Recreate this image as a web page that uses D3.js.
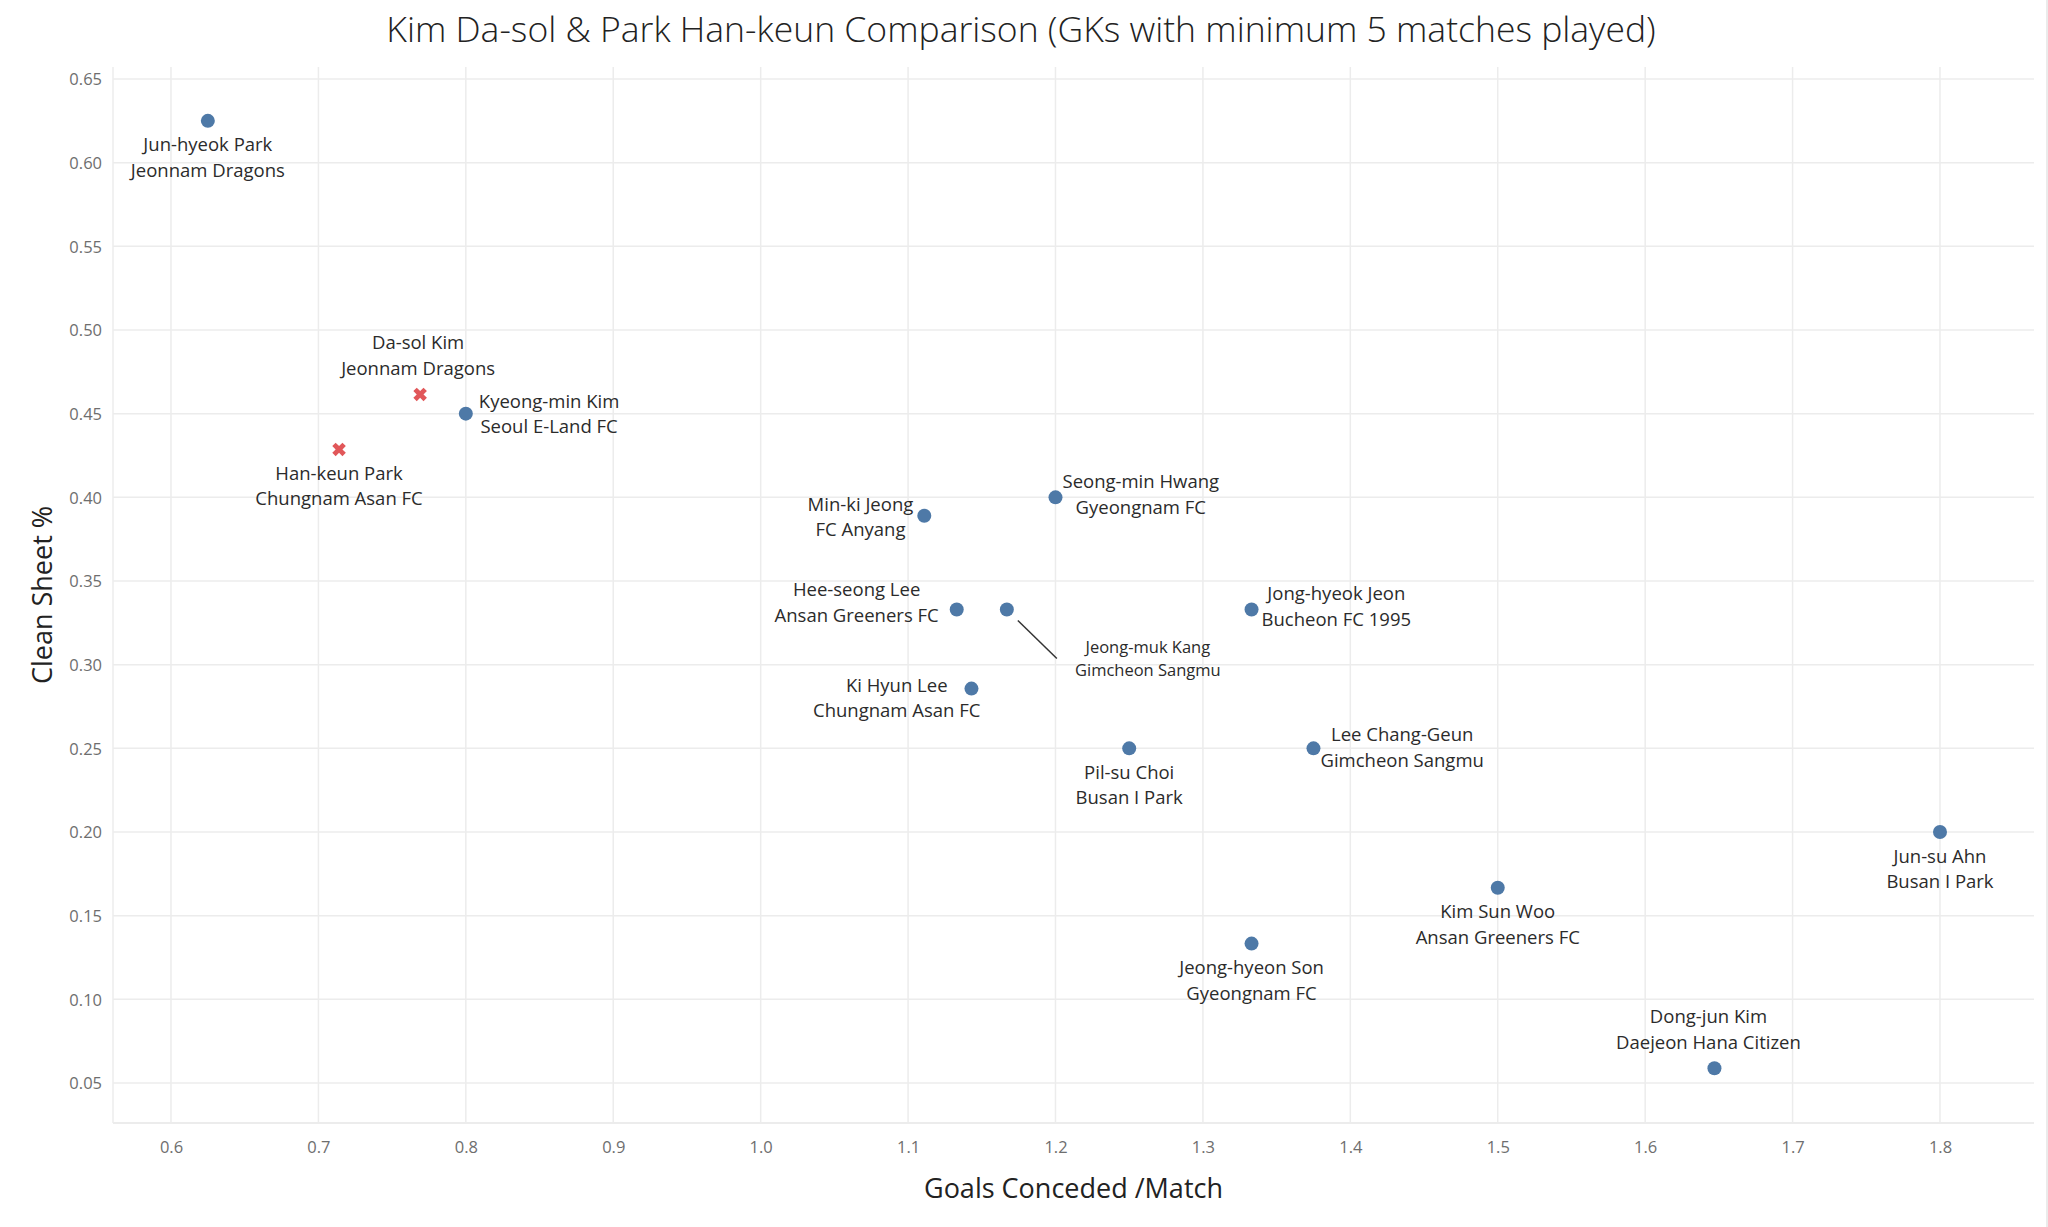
<!DOCTYPE html>
<html>
<head>
<meta charset="utf-8">
<script src="https://cdn.jsdelivr.net/npm/d3@7/dist/d3.min.js"></script>
<style>
  html, body { margin: 0; padding: 0; background: #ffffff; }
  svg { display: block; }
  text { font-family: "Open Sans", "Noto Sans", sans-serif; }
</style>
</head>
<body>
<svg id="chart" width="2048" height="1227"></svg>
<script>
// ---------------- data ----------------
const players = ["Jun-hyeok Park","Da-sol Kim","Han-keun Park","Kyeong-min Kim","Min-ki Jeong","Seong-min Hwang","Hee-seong Lee","Jeong-muk Kang","Jong-hyeok Jeon","Ki Hyun Lee","Pil-su Choi","Lee Chang-Geun","Jun-su Ahn","Kim Sun Woo","Jeong-hyeon Son","Dong-jun Kim"];
const teams = ["Jeonnam Dragons","Jeonnam Dragons","Chungnam Asan FC","Seoul E-Land FC","FC Anyang","Gyeongnam FC","Ansan Greeners FC","Gimcheon Sangmu","Bucheon FC 1995","Chungnam Asan FC","Busan I Park","Gimcheon Sangmu","Busan I Park","Ansan Greeners FC","Gyeongnam FC","Daejeon Hana Citizen"];
const goalsConcededPerMatch = [0.625,0.769,0.714,0.800,1.111,1.200,1.133,1.167,1.333,1.143,1.250,1.375,1.800,1.500,1.333,1.647];
const cleanSheetPct = [0.625,0.4615,0.4286,0.450,0.389,0.400,0.333,0.333,0.333,0.2857,0.250,0.250,0.200,0.1667,0.1333,0.0588];
const highlighted = ["Da-sol Kim","Han-keun Park"];
const xTicks = [0.6,0.7,0.8,0.9,1.0,1.1,1.2,1.3,1.4,1.5,1.6,1.7,1.8];
const yTicks = [0.05,0.10,0.15,0.20,0.25,0.30,0.35,0.40,0.45,0.50,0.55,0.60,0.65];
const titleText = "Kim Da-sol & Park Han-keun Comparison (GKs with minimum 5 matches played)";
const xTitle = "Goals Conceded /Match";
const yTitle = "Clean Sheet %";

// ---------------- layout ----------------
const W = 2048, H = 1227;
const plot = { left: 113, right: 2034, top: 67, bottom: 1123 };
const xDomain = [0.56066, 1.86377];
const yDomain = [0.0261, 0.65717];
const colors = { normal: "#4e79a7", highlight: "#e15759", grid: "#ececec", tick: "#6e6e6e", text: "#2b2b2b" };

// label placement (relative to the mark): pos, horizontal gap, first-line offset
const labelLayout = {
  "Jun-hyeok Park": { pos: "below" },
  "Da-sol Kim": { pos: "above", dx: -2 },
  "Han-keun Park": { pos: "below" },
  "Kyeong-min Kim": { pos: "right", gap: 13, dy: -12 },
  "Min-ki Jeong": { pos: "left", gap: 11, dy: -11 },
  "Seong-min Hwang": { pos: "right", gap: 7, dy: -15 },
  "Hee-seong Lee": { pos: "left", gap: 18, dy: -19 },
  "Jeong-muk Kang": { pos: "leader" },
  "Jong-hyeok Jeon": { pos: "right", gap: 10, dy: -15 },
  "Ki Hyun Lee": { pos: "left", gap: -9, dy: -3 },
  "Pil-su Choi": { pos: "below" },
  "Lee Chang-Geun": { pos: "right", gap: 7, dy: -13 },
  "Jun-su Ahn": { pos: "below" },
  "Kim Sun Woo": { pos: "below" },
  "Jeong-hyeon Son": { pos: "below" },
  "Dong-jun Kim": { pos: "above", dx: -6 }
};

const svg = d3.select("#chart");
svg.append("rect").attr("width", W).attr("height", H).attr("fill", "#fff");

const x = d3.scaleLinear().domain(xDomain).range([plot.left, plot.right]);
const y = d3.scaleLinear().domain(yDomain).range([plot.bottom, plot.top]);

// grid
const grid = svg.append("g");
grid.selectAll("line.v").data(xTicks).join("line")
  .attr("x1", d => x(d)).attr("x2", d => x(d))
  .attr("y1", plot.top).attr("y2", plot.bottom)
  .attr("stroke", colors.grid).attr("stroke-width", 1.5);
grid.selectAll("line.h").data(yTicks).join("line")
  .attr("x1", plot.left).attr("x2", plot.right)
  .attr("y1", d => y(d)).attr("y2", d => y(d))
  .attr("stroke", colors.grid).attr("stroke-width", 1.5);
// plot frame (left + bottom)
grid.append("line").attr("x1", plot.left).attr("x2", plot.left).attr("y1", plot.top).attr("y2", plot.bottom)
  .attr("stroke", colors.grid).attr("stroke-width", 1.5);
grid.append("line").attr("x1", plot.left).attr("x2", plot.right).attr("y1", plot.bottom).attr("y2", plot.bottom)
  .attr("stroke", colors.grid).attr("stroke-width", 2);
// right page border
svg.append("line").attr("x1", W - 1).attr("x2", W - 1).attr("y1", 0).attr("y2", H)
  .attr("stroke", "#e4e4e4").attr("stroke-width", 1.5);

// axes (tick labels only)
const xAxis = d3.axisBottom(x).tickValues(xTicks).tickFormat(d3.format(".1f")).tickSize(0).tickPadding(0);
const gx = svg.append("g").attr("transform", `translate(0,${plot.bottom})`).call(xAxis);
gx.select(".domain").remove();
gx.selectAll("text").attr("y", 30).attr("dy", 0)
  .attr("fill", colors.tick).style("font-size", "16.5px").style("font-family", '"Open Sans", sans-serif');

const yAxis = d3.axisLeft(y).tickValues(yTicks).tickFormat(d3.format(".2f")).tickSize(0).tickPadding(0);
const gy = svg.append("g").attr("transform", `translate(${plot.left - 11},0)`).call(yAxis);
gy.select(".domain").remove();
gy.selectAll("text").attr("x", 0).attr("dy", "0.36em")
  .attr("fill", colors.tick).style("font-size", "16.5px").style("font-family", '"Open Sans", sans-serif');

// titles
svg.append("text").attr("x", W / 2 - 3).attr("y", 42).attr("text-anchor", "middle")
  .attr("fill", "#222").style("font-size", "35.5px").style("font-weight", 300).text(titleText);
svg.append("text").attr("x", (plot.left + plot.right) / 2).attr("y", 1198).attr("text-anchor", "middle")
  .attr("fill", "#222").style("font-size", "27px").style("font-weight", 500).text(xTitle);
svg.append("text").attr("transform", "translate(52,595) rotate(-90)").attr("text-anchor", "middle")
  .attr("fill", "#222").style("font-size", "27px").style("font-weight", 500).text(yTitle);

// data rows
const rows = players.map((p, i) => ({
  name: p, team: teams[i], gpm: goalsConcededPerMatch[i], cs: cleanSheetPct[i],
  hl: highlighted.includes(p)
}));

// marks
const marks = svg.append("g");
marks.selectAll("circle").data(rows.filter(d => !d.hl)).join("circle")
  .attr("cx", d => x(d.gpm)).attr("cy", d => y(d.cs)).attr("r", 7)
  .attr("fill", colors.normal);
const cross = d3.symbol().type(d3.symbolCross).size(115);
marks.selectAll("path.x").data(rows.filter(d => d.hl)).join("path")
  .attr("class", "x")
  .attr("d", cross)
  .attr("transform", d => `translate(${x(d.gpm)},${y(d.cs)}) rotate(45)`)
  .attr("fill", colors.highlight);

// labels
const labels = svg.append("g");
const BASE = 6; // baseline below visual line centre
rows.forEach(d => {
  const L = labelLayout[d.name];
  const px = x(d.gpm), py = y(d.cs);
  const small = L.pos === "leader";
  const fs = small ? 16.5 : 18.5;
  const lh = small ? 22.5 : 25.5;
  const g = labels.append("g");
  const t1 = g.append("text").text(d.name).style("font-size", fs + "px").attr("fill", colors.text).attr("text-anchor", "middle");
  const t2 = g.append("text").text(d.team).style("font-size", fs + "px").attr("fill", colors.text).attr("text-anchor", "middle");
  const wMax = Math.max(t1.node().getComputedTextLength(), t2.node().getComputedTextLength());
  let cx, y1;
  if (L.pos === "below") { cx = px + (L.dx || 0); y1 = py + 24.5; }
  else if (L.pos === "above") { cx = px + (L.dx || 0); y1 = py - 51; }
  else if (L.pos === "right") { cx = px + L.gap + wMax / 2; y1 = py + L.dy; }
  else if (L.pos === "left") { cx = px - L.gap - wMax / 2; y1 = py + L.dy; }
  else { // leader line label
    cx = px + 141; y1 = py + 38;
    labels.append("line")
      .attr("x1", px + 11).attr("y1", py + 11)
      .attr("x2", px + 50).attr("y2", py + 49)
      .attr("stroke", "#333").attr("stroke-width", 1.5);
  }
  t1.attr("x", cx).attr("y", y1 + BASE);
  t2.attr("x", cx).attr("y", y1 + lh + BASE);
});
</script>
</body>
</html>
